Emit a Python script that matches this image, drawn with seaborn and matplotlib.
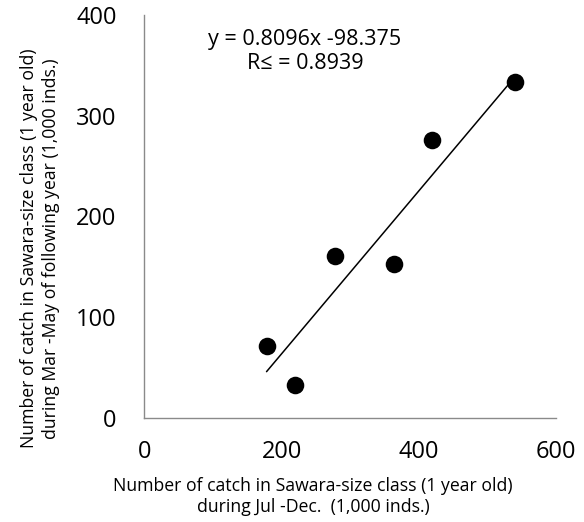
import matplotlib
matplotlib.use("Agg")
import matplotlib.pyplot as plt
import seaborn as sns
import pandas as pd

# Catch of 1-year-old Sawara-size fish (1,000 inds.)
catch_jul_dec = [178, 220, 278, 363, 419, 540]
catch_mar_may_next = [71, 32, 161, 153, 276, 333]

# Linear fit reported on the chart
slope = 0.8096
intercept = -98.375
r_squared = 0.8939

x_ticks = [0, 200, 400, 600]
y_ticks = [0, 100, 200, 300, 400]

sns.set_style("white")
plt.rcParams["font.family"] = ["Open Sans", "DejaVu Sans"]

df = pd.DataFrame({"x": catch_jul_dec, "y": catch_mar_may_next})
x_fit = [min(catch_jul_dec), max(catch_jul_dec)]
fit = pd.DataFrame({"x": x_fit, "y": [slope * v + intercept for v in x_fit]})

fig = plt.figure(figsize=(5.84, 5.22), dpi=100)
ax = fig.add_axes([0.2471, 0.1998, 0.7055, 0.7715])

sns.lineplot(data=fit, x="x", y="y", ax=ax, color="black", linewidth=1.1)
sns.scatterplot(data=df, x="x", y="y", ax=ax, color="black", s=160,
                edgecolor="black", linewidth=0, zorder=3)

ax.set_xlim(0, 600)
ax.set_ylim(0, 400)
ax.set_xticks(x_ticks)
ax.set_yticks(y_ticks)
ax.set_xticklabels([str(t) for t in x_ticks])
ax.set_yticklabels([str(t) for t in y_ticks])

for side in ("top", "right"):
    ax.spines[side].set_visible(False)
for side in ("left", "bottom"):
    ax.spines[side].set_color("#8a8a8a")
    ax.spines[side].set_linewidth(1.0)

ax.tick_params(axis="both", which="major", direction="out", length=6,
               width=1.0, color="#8a8a8a", labelsize=17, labelcolor="black")
ax.tick_params(axis="x", pad=10)
ax.tick_params(axis="y", pad=14)

ax.set_xlabel("Number of catch in Sawara-size class (1 year old)\n"
              "during Jul -Dec.  (1,000 inds.)",
              fontsize=12.7, linespacing=1.25, color="black")
ax.set_ylabel("Number of catch in Sawara-size class (1 year old)\n"
              "during Mar -May of following year (1,000 inds.)",
              fontsize=12.7, linespacing=1.25, color="black")
ax.xaxis.set_label_coords(0.409, -0.147)
ax.yaxis.set_label_coords(-0.205, 0.42)

ax.text(234, 364, f"y = {slope}x {intercept}\nR\u2264 = {r_squared}",
        ha="center", va="center", fontsize=15.5, linespacing=1.2,
        color="black")

fig.savefig("out.png", dpi=100)
